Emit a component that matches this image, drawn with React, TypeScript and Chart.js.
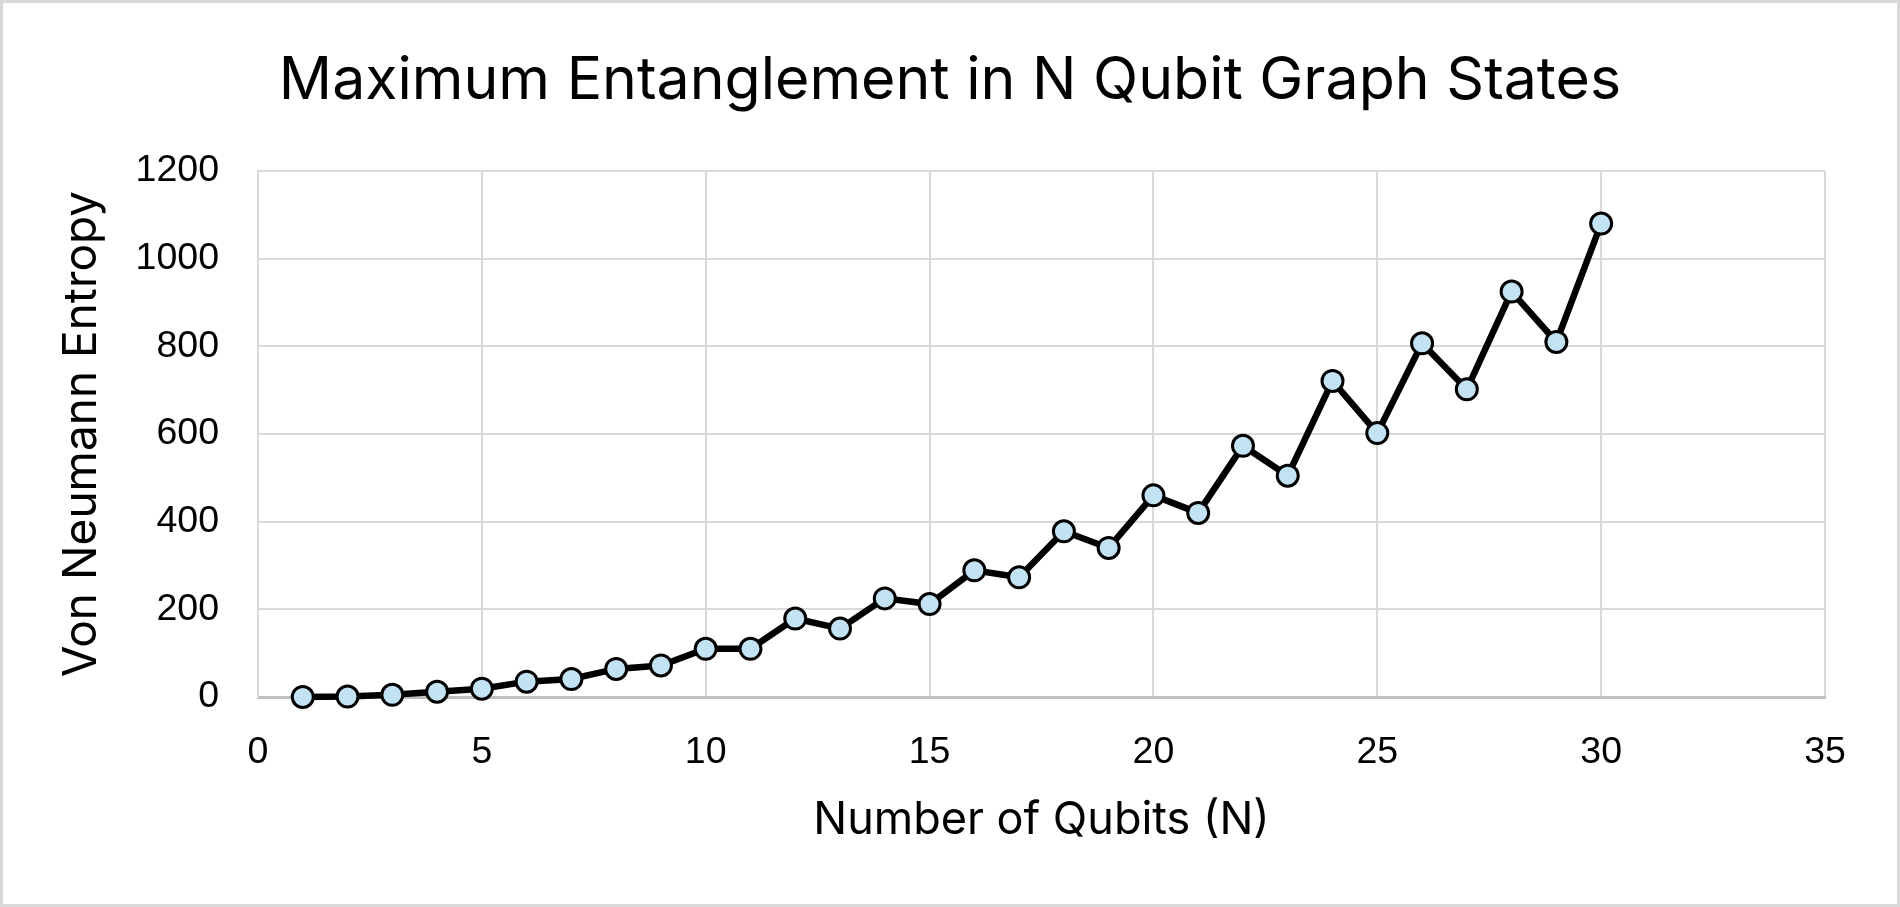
import React, { useEffect, useRef } from "react";
import { Chart, registerables } from "chart.js";

Chart.register(...registerables);

const qubits = [1, 2, 3, 4, 5, 6, 7, 8, 9, 10, 11, 12, 13, 14, 15, 16, 17, 18, 19, 20, 21, 22, 23, 24, 25, 26, 27, 28, 29, 30];
const entropy = [0, 1, 5, 12, 19, 35, 41, 64, 72, 110, 110, 179, 156, 225, 212, 289, 273, 378, 340, 460, 420, 573, 505, 721, 602, 807, 702, 925, 810, 1080];
const xTickValues = [0, 5, 10, 15, 20, 25, 30, 35];
const yTickValues = [0, 200, 400, 600, 800, 1000, 1200];
const chartTitle = "Maximum Entanglement in N Qubit Graph States";
const xAxisTitle = "Number of Qubits (N)";
const yAxisTitle = "Von Neumann Entropy";

const W = 1900;
const H = 907;

const framePlugin = {
  id: "frameAndTitle",
  beforeDraw(chart: any) {
    const ctx = chart.ctx;
    ctx.save();
    ctx.fillStyle = "#ffffff";
    ctx.fillRect(0, 0, chart.width, chart.height);
    ctx.restore();
  },
  afterDraw(chart: any) {
    const ctx = chart.ctx;
    ctx.save();
    ctx.fillStyle = "#000000";
    ctx.font = "normal 59px Inter";
    ctx.textAlign = "center";
    ctx.textBaseline = "alphabetic";
    ctx.fillText(chartTitle, chart.width / 2, 99);
    ctx.strokeStyle = "#d9d9d9";
    ctx.lineWidth = 3;
    ctx.strokeRect(1.5, 1.5, chart.width - 3, chart.height - 3);
    ctx.restore();
  },
};

export default function App() {
  const ref = useRef<HTMLCanvasElement | null>(null);

  useEffect(() => {
    document.body.style.margin = "0";
    document.body.style.overflow = "hidden";
    const canvas = ref.current;
    if (!canvas) return;
    const chart = new Chart(canvas, {
      type: "line",
      data: {
        datasets: [
          {
            label: yAxisTitle,
            data: qubits.map((q, i) => ({ x: q, y: entropy[i] })),
            borderColor: "#000000",
            borderWidth: 6.5,
            backgroundColor: "#c3e3f4",
            pointBackgroundColor: "#c3e3f4",
            pointBorderColor: "#000000",
            pointBorderWidth: 3,
            pointRadius: 10.5,
            pointHoverRadius: 10.5,
            tension: 0,
            clip: false as any,
          },
        ],
      },
      plugins: [framePlugin],
      options: {
        animation: false,
        responsive: false,
        devicePixelRatio: 1,
        events: [],
        layout: { padding: { left: 0, right: 75, top: 171, bottom: 0 } },
        plugins: {
          legend: { display: false },
          tooltip: { enabled: false },
          title: { display: false },
        },
        scales: {
          x: {
            type: "linear",
            min: 0,
            max: 35,
            afterBuildTicks: (scale: any) => {
              scale.ticks = xTickValues.map((v) => ({ value: v }));
            },
            afterFit: (scale: any) => {
              scale.height = 210;
            },
            grid: { color: "#d9d9d9", lineWidth: 2, drawTicks: false },
            border: { color: "#bfbfbf", width: 3 },
            ticks: {
              color: "#000000",
              padding: 33,
              callback: (v: any) => String(v),
              font: { family: "Liberation Sans", size: 37.5, lineHeight: 1.2 },
            },
            title: {
              display: true,
              text: xAxisTitle,
              color: "#000000",
              font: { family: "Inter", size: 45, lineHeight: 1.2 },
              padding: { top: 0, bottom: 60 },
            },
          },
          y: {
            type: "linear",
            min: 0,
            max: 1200,
            afterBuildTicks: (scale: any) => {
              scale.ticks = yTickValues.map((v) => ({ value: v }));
            },
            afterFit: (scale: any) => {
              scale.width = 258;
            },
            grid: { color: "#d9d9d9", lineWidth: 2, drawTicks: false },
            border: { color: "#d9d9d9", width: 2 },
            ticks: {
              color: "#000000",
              padding: 39,
              callback: (v: any) => String(v),
              font: { family: "Liberation Sans", size: 37.5, lineHeight: 1.2 },
            },
            title: {
              display: true,
              text: yAxisTitle,
              color: "#000000",
              font: { family: "Inter", size: 46, lineHeight: 1.2 },
              padding: { top: 55, bottom: 0 },
            },
          },
        },
      },
    });
    return () => chart.destroy();
  }, []);

  return (
    <div style={{ width: W, height: H, background: "#fff" }}>
      <canvas ref={ref} width={W} height={H} style={{ display: "block", width: W, height: H }} />
    </div>
  );
}
